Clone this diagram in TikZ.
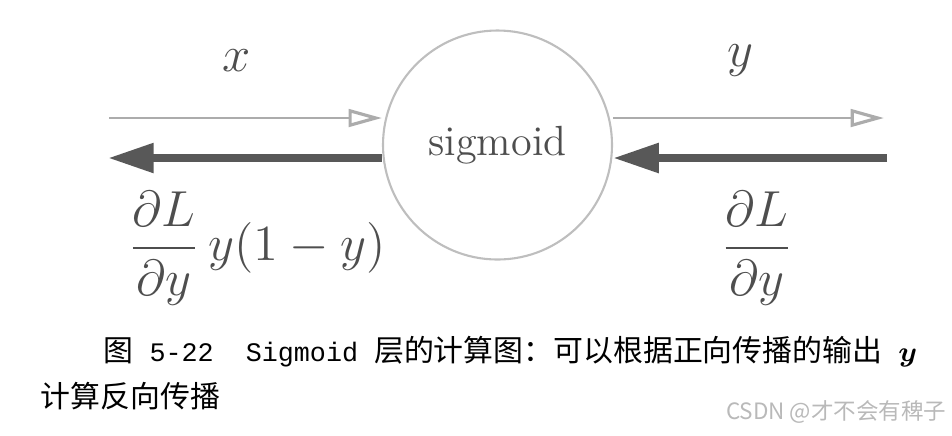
\documentclass[tikz,border=0pt]{standalone}
\usepackage{fontspec}
\usepackage{amsmath,amssymb}
\usepackage{bm}
\usetikzlibrary{arrows.meta,positioning}
\newfontfamily\cjkfont{Noto Sans CJK SC}
\newfontfamily\capmono{Liberation Mono}
\newcommand{\capmn}[1]{{\capmono\fontsize{7.6}{10}\selectfont#1}}
\definecolor{fwdgray}{RGB}{172,172,172}
\definecolor{bwdgray}{RGB}{88,88,88}
\definecolor{circgray}{RGB}{190,190,190}
\definecolor{mathgray}{RGB}{78,78,78}
\definecolor{markgray}{RGB}{185,185,185}
\tikzset{
  fwd/.style={draw=fwdgray,line width=0.55pt,-{Triangle[open,length=9.5pt,width=5pt,line width=0.9pt]}},
  bwd/.style={draw=bwdgray,line width=2.3pt,-{Triangle[length=13pt,width=8pt]}},
  mathlbl/.style={text=mathgray,inner sep=0pt,font=\fontsize{13.5}{16}\selectfont},
  caption/.style={inner sep=0pt,anchor=base west,font=\cjkfont\fontsize{8.5}{10}\selectfont}
}

\begin{document}
\begin{tikzpicture}[x=0.01cm,y=-0.01cm]
\useasboundingbox (0,0) rectangle (952,435);
% \draw[help lines,step=50] (0,0) grid (952,435);
\node (sig) [circle,draw=circgray,line width=0.6pt,minimum size=229*0.01cm,inner sep=0pt,
  font=\fontsize{12}{14}\selectfont,text=mathgray] at (497.5,145) {sigmoid};
\coordinate (xin) at (109,118);
\coordinate (yout) at (884,118);
\coordinate (gin) at (887,158);
\coordinate (gout) at (108,158);
%
\draw[fwd] (xin) -- (xin -| sig.west);
\draw[fwd] (sig.east |- yout) -- (yout);
\draw[bwd] (gin) -- (gin -| sig.east);
\draw[bwd] (sig.west |- gout) -- (gout);
%
\node (xlbl) [mathlbl] at (237,61) {$x$};
\node (ylbl) [mathlbl] at (740,61) {$y$};
\node (gleft) [mathlbl] at (257,248) {$\displaystyle\frac{\partial L}{\partial y}\,y(1-y)$};
\node (gright) [mathlbl] at (757,248) {$\displaystyle\frac{\partial L}{\partial y}$};
%
\node (cap1) [caption] at (103,361) {图\capmn{\ 5-22\ \ Sigmoid }层的计算图：可以根据正向传播的输出\capmn{\ }$\bm{y}$};
\node (cap2) [caption] at (40,407) {计算反向传播};
\node (mark) [inner sep=0pt,anchor=base east,text=markgray,font=\cjkfont\fontsize{6.4}{8}\selectfont]
  at (947,419) {CSDN @才不会有稗子};
\end{tikzpicture}
\end{document}
